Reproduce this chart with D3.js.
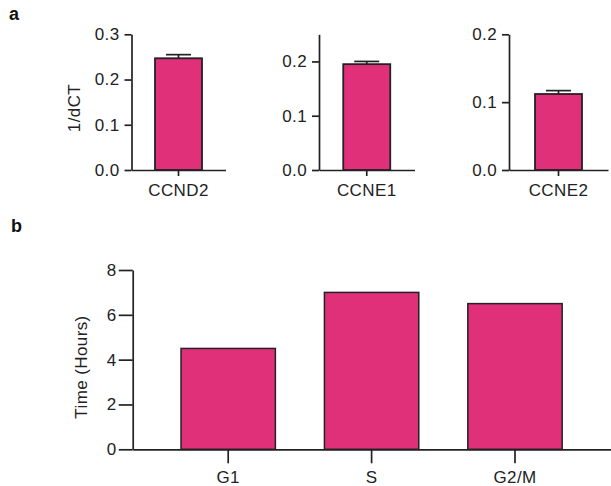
<!DOCTYPE html>
<html>
<head>
<meta charset="utf-8">
<script src="https://cdn.jsdelivr.net/npm/d3@7"></script>
<style>
  body { margin: 0; background: #fff; }
  svg { display: block; font-family: "Liberation Sans", Arial, sans-serif; }
  .axis path, .axis line { stroke: #222; stroke-width: 1.7; }
  .axis text { fill: #222; font-size: 17px; letter-spacing: 0.4px; font-family: "Liberation Sans", Arial, sans-serif; }
</style>
</head>
<body>
<svg id="chart" width="611" height="486"></svg>
<script>
// panel a: qPCR values
const genes = ["CCND2", "CCNE1", "CCNE2"];
const geneMeans = [0.247, 0.195, 0.112];
const geneErrors = [0.008, 0.005, 0.005];
const geneMax = [0.3, 0.25, 0.2];
const geneTicks = [[0, 0.1, 0.2, 0.3], [0, 0.1, 0.2], [0, 0.1, 0.2]];

// panel b: cell cycle phase durations
const phases = ["G1", "S", "G2/M"];
const phaseHours = [4.5, 7.0, 6.5];
const hourTicks = [0, 2, 4, 6, 8];

const pink = "#E0307A";
const ink = "#222";

const svg = d3.select("#chart");

function panelLabel(text, x, y) {
    svg.append("text")
        .attr("x", x)
        .attr("y", y)
        .attr("font-size", 18)
        .attr("font-weight", "bold")
        .attr("fill", "#111")
        .text(text);
}

function yLabel(text, x, y) {
    svg.append("text")
        .attr("transform", "translate(" + x + "," + y + ") rotate(-90)")
        .attr("text-anchor", "middle")
        .attr("font-size", 17)
        .attr("letter-spacing", 0.4)
        .attr("fill", ink)
        .text(text);
}

panelLabel("a", 9, 20);
panelLabel("b", 11, 232);

// layout of the three small plots in panel a
const aPlots = [
    { axisX: 131.5, width: 94 },
    { axisX: 319, width: 95.5 },
    { axisX: 509, width: 99 }
];
const aTop = 34.3, aBottom = 170;
const aBarWidth = 47;

genes.forEach((gene, i) => {
    const p = aPlots[i];
    const outer = (p.width / aBarWidth - 1) / 2;

    const x = d3.scaleBand()
        .domain([gene])
        .range([p.axisX, p.axisX + p.width])
        .paddingInner(0)
        .paddingOuter(outer);

    const y = d3.scaleLinear()
        .domain([0, geneMax[i]])
        .range([aBottom, aTop]);

    const g = svg.append("g");

    const xAxis = g.append("g")
        .attr("class", "axis")
        .attr("transform", "translate(0," + aBottom + ")")
        .call(d3.axisBottom(x).tickSizeOuter(0).tickSizeInner(6).tickPadding(8));
    xAxis.selectAll("text").attr("dy", "0.71em");

    g.append("g")
        .attr("class", "axis")
        .attr("transform", "translate(" + p.axisX + ",0)")
        .call(d3.axisLeft(y)
            .tickValues(geneTicks[i])
            .tickFormat(d3.format(".1f"))
            .tickSizeOuter(0)
            .tickSizeInner(7)
            .tickPadding(5));

    const cx = x(gene) + x.bandwidth() / 2;
    const errTop = y(geneMeans[i] + geneErrors[i]);

    // error bar (upper half)
    g.append("line")
        .attr("x1", cx).attr("x2", cx)
        .attr("y1", y(geneMeans[i])).attr("y2", errTop)
        .attr("stroke", ink).attr("stroke-width", 1.7);
    g.append("line")
        .attr("x1", cx - 12.5).attr("x2", cx + 12.5)
        .attr("y1", errTop).attr("y2", errTop)
        .attr("stroke", ink).attr("stroke-width", 1.7);

    g.append("rect")
        .attr("x", x(gene))
        .attr("y", y(geneMeans[i]))
        .attr("width", x.bandwidth())
        .attr("height", aBottom - y(geneMeans[i]))
        .attr("fill", pink)
        .attr("stroke", ink)
        .attr("stroke-width", 1.8);
});

yLabel("1/dCT", 80, 108);

// panel b
const bLeft = 132.7, bRight = 610.5, bTop = 270, bBottom = 449.3;

const xb = d3.scaleBand()
    .domain(phases)
    .range([bLeft, bRight])
    .paddingInner(0.342)
    .paddingOuter(0.337);

const yb = d3.scaleLinear()
    .domain([0, 8])
    .range([bBottom, bTop]);

const gb = svg.append("g");

const xbAxis = gb.append("g")
    .attr("class", "axis")
    .attr("transform", "translate(0," + bBottom + ")")
    .call(d3.axisBottom(xb).tickSizeOuter(0).tickSizeInner(14).tickPadding(8));
xbAxis.selectAll("text").attr("dy", "0.71em");

gb.append("g")
    .attr("class", "axis")
    .attr("transform", "translate(" + bLeft + ",0)")
    .call(d3.axisLeft(yb).tickValues(hourTicks).tickSizeOuter(0).tickSizeInner(14).tickPadding(2));

gb.selectAll(".bar")
    .data(phases)
    .enter()
    .append("rect")
    .attr("class", "bar")
    .attr("x", d => xb(d))
    .attr("y", (d, i) => yb(phaseHours[i]))
    .attr("width", xb.bandwidth())
    .attr("height", (d, i) => bBottom - yb(phaseHours[i]))
    .attr("fill", pink)
    .attr("stroke", ink)
    .attr("stroke-width", 1.5);

yLabel("Time (Hours)", 87, 367);
</script>
</body>
</html>
